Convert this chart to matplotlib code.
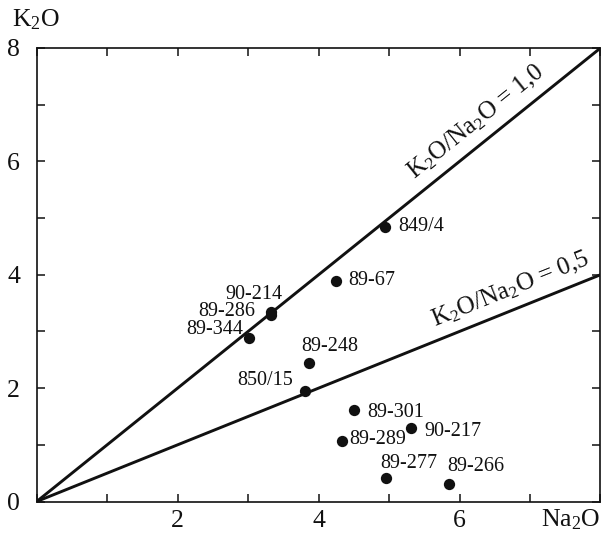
import matplotlib
matplotlib.use("Agg")
import matplotlib.pyplot as plt
import numpy as np

# Data
samples = ["849/4", "89-67", "90-214", "89-286", "89-344", "89-248", "850/15",
           "89-301", "90-217", "89-289", "89-277", "89-266"]
na2o = [4.94, 4.24, 3.32, 3.32, 3.01, 3.86, 3.80, 4.50, 5.31, 4.33, 4.95, 5.85]
k2o = [4.85, 3.89, 3.35, 3.29, 2.88, 2.44, 1.95, 1.61, 1.29, 1.07, 0.41, 0.31]
ratios = [1.0, 0.5]
ratio_labels = ["K$_2$O/Na$_2$O = 1,0", "K$_2$O/Na$_2$O = 0,5"]
x_ticklabels = ["2", "4", "6"]
y_ticklabels = ["0", "2", "4", "6", "8"]

# label offsets (pixels) and alignment
label_style = {
    "849/4": (13, 0, "left"),
    "89-67": (13, 0, "left"),
    "90-214": (12, 17, "right"),
    "89-286": (-15, 3, "right"),
    "89-344": (-6, 9, "right"),
    "89-248": (21, 17, "center"),
    "850/15": (-12, 10, "right"),
    "89-301": (13, -2, "left"),
    "90-217": (13, -3, "left"),
    "89-289": (7, 1, "left"),
    "89-277": (23, 15, "center"),
    "89-266": (27, 17, "center"),
}

plt.rcParams["font.family"] = ["Liberation Serif", "DejaVu Serif"]
plt.rcParams["mathtext.fontset"] = "custom"
plt.rcParams["mathtext.rm"] = "Liberation Serif"
plt.rcParams["mathtext.it"] = "Liberation Serif:italic"
plt.rcParams["mathtext.default"] = "regular"

INK = "#111111"
W, H, DPI = 604, 537, 100
fig = plt.figure(figsize=(W / DPI, H / DPI), dpi=DPI)
L, R, T, B = 36.7, 600.5, 48.0, 501.5
ax = fig.add_axes([L / W, (H - B) / H, (R - L) / W, (B - T) / H])

xmax, ymax = 8.0, 8.0
ax.set_xlim(0, xmax)
ax.set_ylim(0, ymax)

for r in ratios:
    xs = np.array([0, xmax])
    ax.plot(xs, r * xs, color=INK, lw=2.1, solid_capstyle="butt", clip_on=True)

ax.scatter(na2o, k2o, s=66, color=INK, zorder=3, linewidths=0)

for s, x, y in zip(samples, na2o, k2o):
    dx, dy, ha = label_style[s]
    ax.annotate(s, (x, y), xytext=(dx, dy), textcoords="offset pixels",
                ha=ha, va="center", fontsize=14.5, color=INK)

# ratio line labels
sx = (R - L) / xmax
sy = (B - T) / ymax
ang1 = np.degrees(np.arctan(1.0 * sy / sx))
ang05 = np.degrees(np.arctan(0.5 * sy / sx))
ax.text(6.24, 6.70, ratio_labels[0], rotation=ang1, rotation_mode="anchor",
        ha="center", va="center", fontsize=18, color=INK)
ax.text(6.72, 3.75, ratio_labels[1], rotation=ang05, rotation_mode="anchor",
        ha="center", va="center", fontsize=18, color=INK)

ax.set_xticks(np.arange(0, 9, 1))
ax.set_xticklabels(["" if str(v) not in x_ticklabels else str(v) for v in range(0, 9)])
ax.set_yticks(np.arange(0, 9, 1))
ax.set_yticklabels([str(v) if str(v) in y_ticklabels else "" for v in range(0, 9)])
ax.tick_params(direction="in", length=6, width=1.1, top=True, right=True,
               labelsize=18.5, colors=INK, pad=6)
ax.tick_params(axis="y", pad=12)
for sp in ax.spines.values():
    sp.set_linewidth(1.2)
    sp.set_color(INK)

fig.text(12 / W, 1 - 20 / H, "K$_2$O", ha="left", va="center", fontsize=18.5, color=INK)
fig.text(600 / W, 1 - 520 / H, "Na$_2$O", ha="right", va="center", fontsize=18.5, color=INK)

fig.savefig("out.png", dpi=DPI)
